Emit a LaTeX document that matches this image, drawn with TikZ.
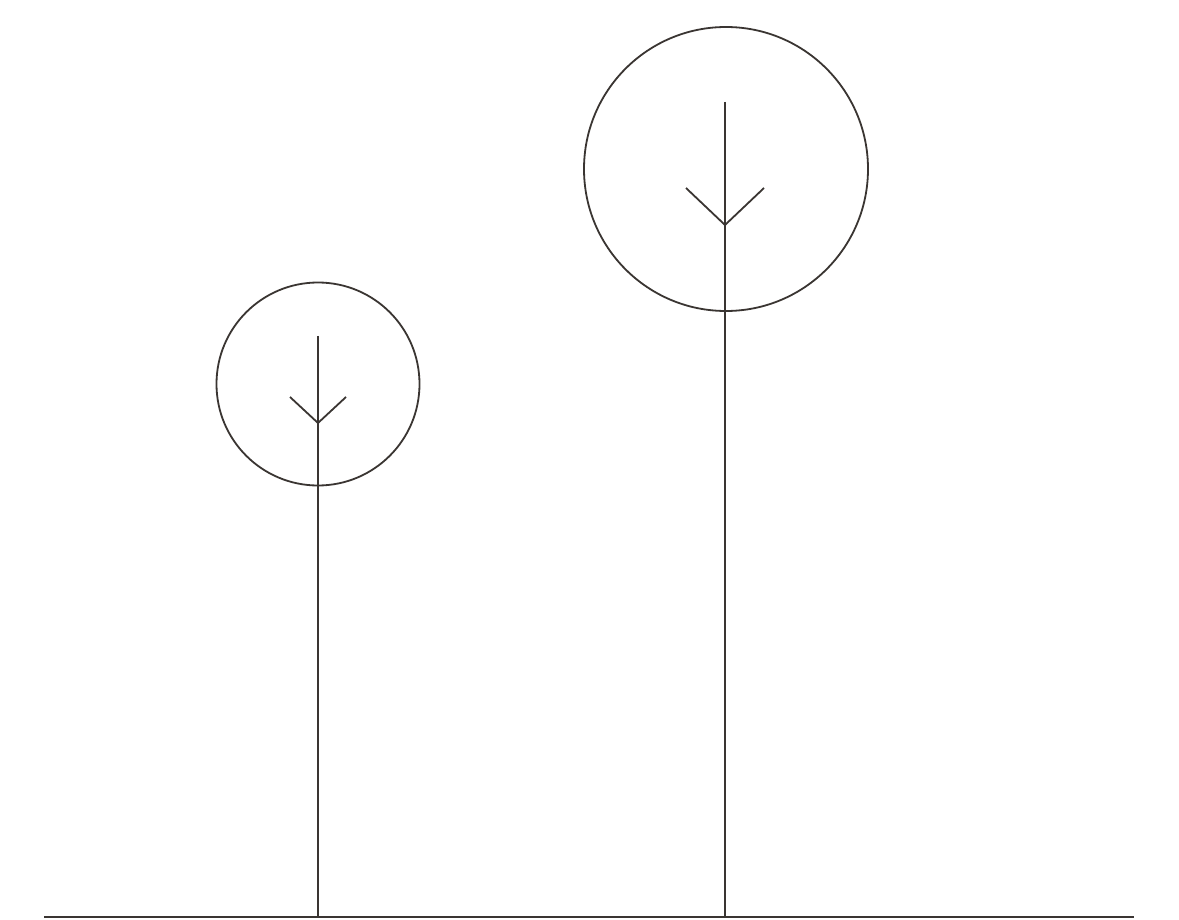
\documentclass[tikz,border=0pt]{standalone}
\definecolor{ink}{HTML}{3A3532}
\begin{document}
\begin{tikzpicture}[x=1pt,y=-1pt,
  line/.style={draw=ink,line width=1.8pt},
  crown/.style={draw=ink,line width=1.8pt}]
\useasboundingbox[fill=white] (0,0) rectangle (1179,920);
% ground
\coordinate (gL) at (44,917);
\coordinate (gR) at (1134,917);
\draw[line] (gL) -- (gR);
% left tree
\coordinate (c1) at (318,384);
\draw[crown] (c1) circle[radius=101.5];
\coordinate (t1) at (318,336);
\coordinate (b1) at (318,917);
\coordinate (v1) at (318,423);
\draw[line] (t1) -- (b1);
\draw[line] (290,397) -- (v1) -- (346,397);
% right tree
\coordinate (c2) at (726,169);
\draw[crown] (c2) circle[radius=142];
\coordinate (t2) at (725,102);
\coordinate (b2) at (725,917);
\coordinate (v2) at (725,225);
\draw[line] (t2) -- (b2);
\draw[line] (686,188) -- (v2) -- (764,188);
\end{tikzpicture}
\end{document}
